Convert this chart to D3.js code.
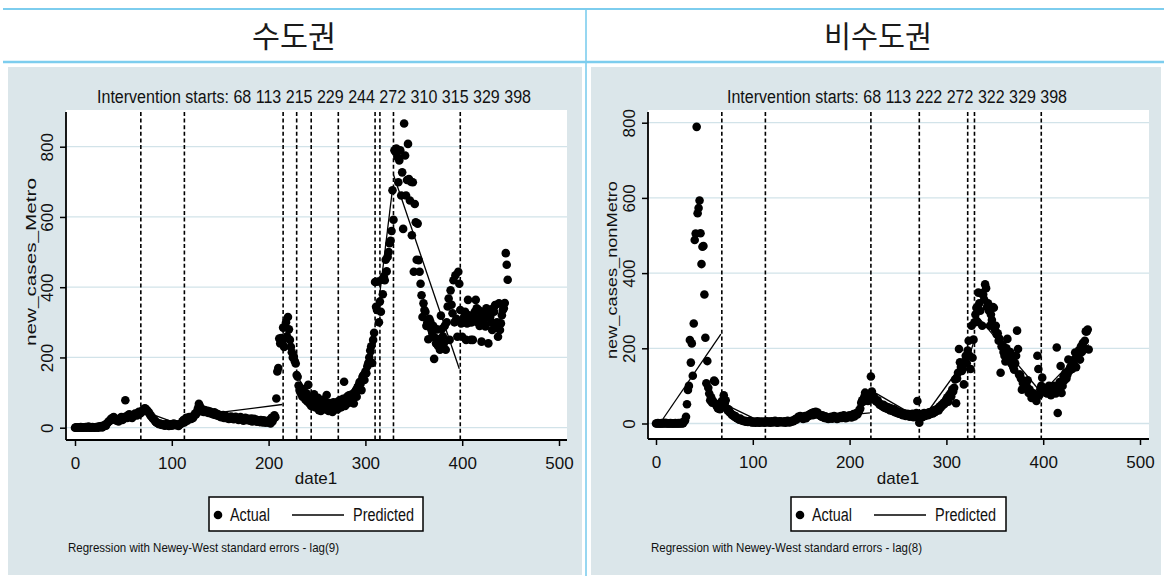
<!DOCTYPE html>
<html><head><meta charset="utf-8">
<script src="https://cdn.jsdelivr.net/npm/d3@7"></script>
<style>body{margin:0;background:#fff} svg{display:block}</style>
</head><body><svg id="c" width="1164" height="576"></svg>
<script>
// ---------------- DATA ----------------
const panelTitles = ["수도권", "비수도권"];
const xTicks = [0, 100, 200, 300, 400, 500];
const yTicks = [0, 200, 400, 600, 800];
const xTitle = "date1";
const yTitles = ["new_cases_Metro", "new_cases_nonMetro"];
const legendLabels = ["Actual", "Predicted"];
const notes = ["Regression with Newey-West standard errors - lag(9)",
               "Regression with Newey-West standard errors - lag(8)"];

// daily new cases, index = date1 (0..447)
const metroValues = [
0,1,0,0,1,0,2,0,1,0, 1,2,0,1,3,0,1,0,2,1, 0,1,2,1,0,3,2,4,1,3,
5,8,6,12,15,18,20,25,22,28, 30,26,24,20,22,18,25,28,30,22, 25,30,78,32,28,35,38,34,30,28,
32,36,40,38,35,42,45,40,42,45, 50,52,55,54,50,48,44,40,35,32, 28,25,22,18,15,14,12,10,12,9,
8,10,7,6,9,11,8,5,7,10, 6,8,12,9,7,10,8,5,9,11, 12,18,22,15,25,28,20,24,30,26,
25,30,28,35,40,38,45,55,68,62, 50,48,52,45,50,47,44,48,42,46, 45,40,42,38,44,36,40,35,38,33,
35,30,32,36,28,30,33,27,30,25, 28,32,26,30,24,28,31,25,27,22, 26,30,24,27,20,25,28,22,26,21,
24,20,26,18,22,25,19,23,17,21, 20,16,22,18,15,21,17,14,19,16, 15,22,12,28,18,25,35,30,83,160,
170,254,240,255,245,285,230,287,300,260, 315,280,250,230,215,200,203,190,183,150,
145,120,107,100,95,88,110,92,80,98, 75,122,70,88,62,80,69,95,58,72, 65,85,50,72,48,60,55,80,68,52,
93,62,48,70,55,66,45,72,69,58, 60,52,75,65,79,58,70,82,131,62, 75,88,70,92,78,85,95,80,69,100,
105,88,115,120,130,125,107,145,150,136, 160,155,175,184,200,220,232,184,250,270,
415,344,335,416,300,359,330,421,380,430, 420,478,445,486,500,525,532,560,676,592,
790,786,795,771,699,761,790,661,727,566, 866,775,661,705,808,708,647,700,548,699,
444,637,585,478,581,477,444,410,377,315, 354,335,330,290,300,252,310,302,280,270,
290,196,256,240,280,233,252,222,319,281, 260,240,290,222,300,345,368,250,391,350,
326,420,300,434,310,259,444,410,335,297, 259,300,316,330,250,297,364,320,300,250,
300,250,316,330,364,340,300,335,290,316, 245,330,300,310,288,340,320,240,335,316,
300,278,340,330,349,290,300,259,354,278, 297,320,335,340,355,497,464,421
];
const nonMetroValues = [
0,0,1,0,0,0,1,0,0,2, 0,1,0,0,0,1,0,0,0,0, 1,0,0,1,0,0,2,0,1,5,
8,18,51,89,100,222,162,213,127,266, 488,505,789,559,573,593,506,424,470,472,
343,228,107,166,95,80,62,70,55,60, 114,111,50,45,40,52,38,44,60,48, 75,53,62,40,35,38,30,28,25,22,
22,18,20,15,14,12,10,13,9,8, 8,6,7,5,6,4,5,7,4,3, 4,3,5,2,4,6,3,2,5,4,
3,5,2,4,6,3,5,4,2,6, 4,3,5,7,4,2,5,3,6,4, 5,3,4,6,2,5,7,4,3,6, 5,8,6,9,12,10,14,18,15,20,
15,18,12,16,20,14,18,22,20,25, 24,28,22,30,27,31,26,29,24,22, 20,18,22,17,15,19,14,16,12,15,
14,18,13,16,20,15,17,12,18,14, 16,20,15,18,22,17,14,19,16,21, 18,22,16,20,25,19,23,28,24,30,
35,40,55,62,58,70,82,65,73,60, 78,75,125,85,68,72,65,60,58,62, 55,50,52,48,45,50,42,46,40,44,
38,42,35,40,36,33,38,30,34,28, 32,26,30,25,28,22,27,24,20,26, 22,25,18,24,20,26,17,23,19,28,
60,18,2,20,25,17,22,28,20,24, 26,22,30,25,28,32,27,35,30,33, 37,40,35,45,42,50,48,55,52,60,
65,70,58,75,80,72,90,85,95,117, 54,120,135,198,163,150,140,145,104,165,
180,160,194,220,180,145,260,175,223,269, 290,308,270,348,320,300,346,260,343,330,
370,360,310,320,300,260,290,275,310,308, 250,260,237,240,220,225,135,205,210,190,
180,165,200,225,175,170,190,160,170,150, 143,160,180,247,198,130,130,120,90,108,
110,100,95,99,115,81,90,80,68,75, 80,70,73,60,180,145,75,90,100,122,
90,95,88,81,80,95,100,85,75,86, 90,100,95,80,202,28,95,110,153,81,
100,125,115,135,120,130,170,140,150,145, 145,160,170,189,150,175,180,195,170,205,
190,214,200,220,245,245,250,197
];

const metroInterventions = [68, 113, 215, 229, 244, 272, 310, 315, 329, 398];
const nonMetroInterventions = [68, 113, 222, 272, 322, 329, 398];

// predicted (segmented regression) : segment day range and fitted values at its ends
const metroSegStart = [0, 68, 113, 215, 229, 244, 272, 310, 315, 329, 398];
const metroSegEnd   = [67, 112, 214, 228, 243, 271, 309, 314, 328, 397, 447];
const metroPredFrom = [-2, 50, 31, 255, 150, 72, 40, 330, 385, 720, 295];
const metroPredTo   = [40, 5, 66, 190, 85, 62, 215, 370, 680, 168, 355];

const nonMetroSegStart = [4, 68, 113, 222, 272, 322, 329, 398];
const nonMetroSegEnd   = [67, 112, 221, 271, 321, 328, 397, 447];
const nonMetroPredFrom = [0, 55, 2, 88, 0, 165, 295, 80];
const nonMetroPredTo   = [238, 0, 28, 15, 175, 215, 85, 210];

// ---------------- DRAW ----------------
const svg = d3.select("#c");
const BLUE = "#7dcdee";
const PANEL = "#dbe6ea";
const GRID = "#d2e3e9";
const NARROW = "'Liberation Sans Narrow','Liberation Sans',Arial,sans-serif";

svg.append("rect").attr("width", 1164).attr("height", 576).attr("fill", "#fff");

// header
svg.append("line").attr("x1", 3).attr("x2", 1164).attr("y1", 9).attr("y2", 9)
   .attr("stroke", BLUE).attr("stroke-width", 2);
svg.append("line").attr("x1", 3).attr("x2", 1164).attr("y1", 62).attr("y2", 62)
   .attr("stroke", BLUE).attr("stroke-width", 2.5);
svg.append("line").attr("x1", 586).attr("x2", 586).attr("y1", 9).attr("y2", 576)
   .attr("stroke", BLUE).attr("stroke-width", 1.6);

const headerGeom = [{cx: 294, w: 84}, {cx: 878, w: 108}];
panelTitles.forEach((t, i) => {
  svg.append("text").attr("x", headerGeom[i].cx).attr("y", 47)
    .attr("text-anchor", "middle")
    .attr("font-family", "'Noto Sans CJK KR',sans-serif")
    .attr("font-weight", 400).attr("font-size", 30)
    .attr("textLength", headerGeom[i].w).attr("lengthAdjust", "spacingAndGlyphs")
    .attr("fill", "#1a1a1a").text(t);
});

function drawPanel(cfg) {
  const g = cfg.geom;
  const root = svg.append("g");
  root.append("rect").attr("x", g.px).attr("y", 67).attr("width", g.pw).attr("height", 508)
      .attr("fill", PANEL);
  root.append("rect").attr("x", g.plotL).attr("y", g.plotT)
      .attr("width", g.plotR - g.plotL).attr("height", g.plotB - g.plotT).attr("fill", "#fff");

  const x = d3.scaleLinear().domain([0, 500]).range([g.x0, g.x500]);
  const y = d3.scaleLinear().domain([0, 800]).range([g.y0, g.y800]);

  // grid
  root.append("g").selectAll("line").data(yTicks).join("line")
    .attr("x1", g.plotL).attr("x2", g.plotR)
    .attr("y1", d => y(d)).attr("y2", d => y(d))
    .attr("stroke", GRID).attr("stroke-width", 1.3);

  // intervention dashed lines
  root.append("g").selectAll("line").data(cfg.interventions).join("line")
    .attr("x1", d => x(d)).attr("x2", d => x(d))
    .attr("y1", g.plotT + 2).attr("y2", g.plotB)
    .attr("stroke", "#000").attr("stroke-width", 1.6).attr("stroke-dasharray", "4,2.6");

  // actual points
  root.append("g").selectAll("circle").data(cfg.values).join("circle")
    .attr("cx", (d, i) => x(i)).attr("cy", d => y(d)).attr("r", 4.3).attr("fill", "#000");

  // predicted segments
  const line = d3.line().x(d => x(d[0])).y(d => y(d[1]));
  const segs = cfg.segStart.map((s, i) => [[s, cfg.predFrom[i]], [cfg.segEnd[i], cfg.predTo[i]]]);
  root.append("g").selectAll("path").data(segs).join("path")
    .attr("d", line).attr("fill", "none").attr("stroke", "#000").attr("stroke-width", 1.3);

  // axes
  const ax = root.append("g").attr("transform", `translate(0,${g.plotB})`)
    .call(d3.axisBottom(x).tickValues(xTicks).tickSize(6).tickFormat(d3.format("d")));
  ax.select(".domain").remove();
  ax.selectAll("line").attr("stroke", "#000").attr("stroke-width", 1.5);
  ax.selectAll("text").attr("y", 29).attr("dy", 0)
    .attr("font-family", NARROW).attr("font-size", 17).attr("fill", "#111");

  const ay = root.append("g").attr("transform", `translate(${g.plotL},0)`)
    .call(d3.axisLeft(y).tickValues(yTicks).tickSize(6).tickFormat(d3.format("d")));
  ay.select(".domain").remove();
  ay.selectAll("line").attr("stroke", "#000").attr("stroke-width", 1.5);
  ay.selectAll("text").attr("x", 0).attr("y", -13).attr("dy", 0)
    .attr("transform", "rotate(-90)").attr("text-anchor", "middle")
    .attr("font-family", NARROW).attr("font-size", 17).attr("fill", "#111");

  root.append("line").attr("x1", g.plotL).attr("x2", g.plotR).attr("y1", g.plotB).attr("y2", g.plotB)
    .attr("stroke", "#000").attr("stroke-width", 1.8);
  root.append("line").attr("x1", g.plotL).attr("x2", g.plotL).attr("y1", g.plotT + 2).attr("y2", g.plotB)
    .attr("stroke", "#000").attr("stroke-width", 1.8);

  // titles
  root.append("text").attr("x", g.titleX).attr("y", 103).attr("text-anchor", "middle")
    .attr("font-family", NARROW).attr("font-size", 18)
    .attr("textLength", g.titleW).attr("lengthAdjust", "spacingAndGlyphs").attr("fill", "#111")
    .text("Intervention starts: " + cfg.interventions.join(" "));
  root.append("text").attr("x", g.xTitleX).attr("y", 484).attr("text-anchor", "middle")
    .attr("font-family", NARROW).attr("font-size", 17).attr("fill", "#111").text(xTitle);
  root.append("text").attr("transform", `translate(${g.yTitleX},${g.yTitleY}) rotate(-90)`)
    .attr("text-anchor", "middle").attr("font-family", "'Liberation Sans',Arial,sans-serif")
    .attr("font-size", 15).attr("textLength", g.yTitleW).attr("lengthAdjust", "spacingAndGlyphs")
    .attr("fill", "#111").text(cfg.yTitle);

  // legend
  const L = g.legend;
  root.append("rect").attr("x", L.x).attr("y", 497).attr("width", L.w).attr("height", 34)
    .attr("fill", "#fff").attr("stroke", "#000").attr("stroke-width", 1.5);
  root.append("circle").attr("cx", L.x + 9).attr("cy", 515).attr("r", 4.3).attr("fill", "#000");
  root.append("text").attr("x", L.x + 21).attr("y", 521).attr("font-family", NARROW)
    .attr("font-size", 18).attr("textLength", 40).attr("lengthAdjust", "spacingAndGlyphs")
    .attr("fill", "#111").text(legendLabels[0]);
  root.append("line").attr("x1", L.x + 83).attr("x2", L.x + 135).attr("y1", 515).attr("y2", 515)
    .attr("stroke", "#000").attr("stroke-width", 1.4);
  root.append("text").attr("x", L.x + 144).attr("y", 521).attr("font-family", NARROW)
    .attr("font-size", 18).attr("textLength", 61).attr("lengthAdjust", "spacingAndGlyphs")
    .attr("fill", "#111").text(legendLabels[1]);

  // note
  root.append("text").attr("x", g.noteX).attr("y", 552).attr("font-family", NARROW)
    .attr("font-size", 13).attr("textLength", 271).attr("lengthAdjust", "spacingAndGlyphs")
    .attr("fill", "#111").text(cfg.note);
}

drawPanel({
  values: metroValues, interventions: metroInterventions,
  segStart: metroSegStart, segEnd: metroSegEnd, predFrom: metroPredFrom, predTo: metroPredTo,
  yTitle: yTitles[0], note: notes[0],
  geom: {px: 8, pw: 574, plotL: 66, plotR: 567, plotT: 110, plotB: 440,
         x0: 75, x500: 559, y0: 427.7, y800: 146.7,
         titleX: 314, titleW: 434, xTitleX: 316, yTitleX: 36, yTitleY: 262, yTitleW: 168,
         legend: {x: 209, w: 214}, noteX: 68}
});
drawPanel({
  values: nonMetroValues, interventions: nonMetroInterventions,
  segStart: nonMetroSegStart, segEnd: nonMetroSegEnd, predFrom: nonMetroPredFrom, predTo: nonMetroPredTo,
  yTitle: yTitles[1], note: notes[1],
  geom: {px: 591, pw: 570, plotL: 648, plotR: 1149, plotT: 110, plotB: 439,
         x0: 656, x500: 1140, y0: 423.5, y800: 122.7,
         titleX: 897, titleW: 340, xTitleX: 898, yTitleX: 617, yTitleY: 270, yTitleW: 178,
         legend: {x: 791, w: 215}, noteX: 651}
});
</script></body></html>
